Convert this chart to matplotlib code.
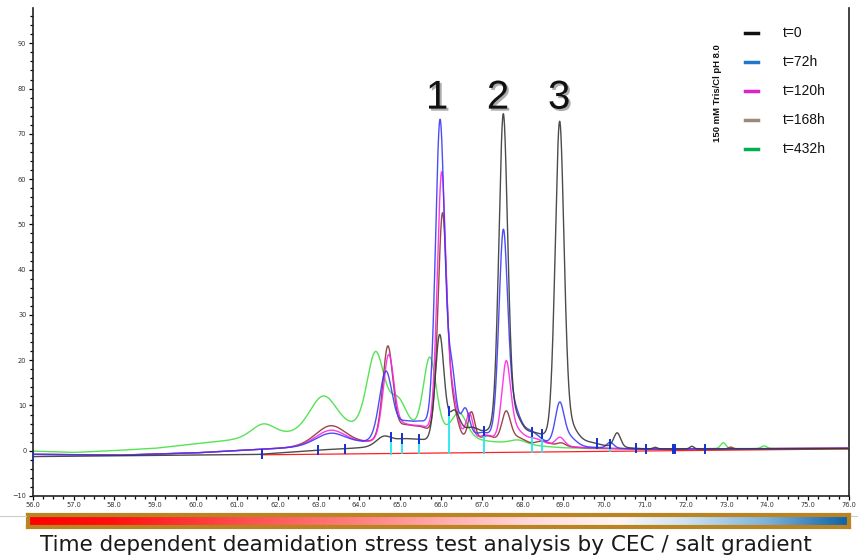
import numpy as np
import matplotlib
matplotlib.use("Agg")
import matplotlib.pyplot as plt
import matplotlib.patheffects as pe
from matplotlib.colors import LinearSegmentedColormap
from matplotlib.lines import Line2D
from matplotlib.ticker import MultipleLocator

# retention time axis (min)
x = np.linspace(56.0, 76.0, 4001)

labels = ["t=0", "t=72h", "t=120h", "t=168h", "t=432h"]
curve_colors = ["#383838", "#3a3af5", "#ff22e6", "#8e3434", "#44e044"]
legend_colors = ["#111111", "#1f78d0", "#e020c8", "#a08878", "#00b050"]

# baseline drift anchors (time, signal) per trace
base_t0_x = [56.0, 61.5, 63.0, 64.0, 66.0, 68.0, 69.5, 71.0, 76.0]
base_t0_y = [-1.3, -0.85, 0.1, 0.5, 1.0, 1.0, 0.8, 0.3, 0.45]
base_mid_x = [56.0, 58.1, 60.0, 61.0, 62.0, 64.0, 66.0, 68.0, 69.5, 71.0, 76.0]
base_mid_y = [-0.8, -1.0, -0.5, 0.0, 0.4, 1.2, 1.5, 1.2, 0.6, 0.3, 0.55]
base_t432_x = [56.0, 57.0, 58.0, 59.0, 60.0, 61.0, 62.0, 63.0, 64.0, 65.0, 66.0, 67.0, 68.0, 69.0, 70.0, 76.0]
base_t432_y = [-0.1, -0.4, 0.0, 0.5, 1.5, 2.3, 3.0, 3.8, 4.4, 4.0, 3.0, 2.0, 1.2, 0.6, 0.4, 0.5]

# peak tables: (retention time, height, fwhm)
peaks_t0 = [(64.6, 2.2, 0.45), (65.1, 1.5, 0.6), (65.5, 0.6, 0.4),
            (65.97, 24.0, 0.26), (66.33, 6.5, 0.32), (66.75, 3.2, 0.5),
            (67.15, 1.0, 0.4), (67.53, 72.5, 0.26), (67.85, 4.0, 0.35),
            (68.25, 1.8, 0.5), (68.91, 71.0, 0.26), (69.2, 2.5, 0.4),
            (69.7, 0.5, 0.5), (70.32, 3.2, 0.2), (71.25, 0.35, 0.12),
            (72.15, 0.6, 0.12)]
peaks_t72 = [(63.3, 2.8, 0.9), (64.65, 15.5, 0.38), (65.1, 3.5, 0.5),
             (65.5, 3.0, 0.5), (65.98, 70.5, 0.27), (66.27, 13.0, 0.24),
             (66.6, 6.5, 0.25), (67.0, 1.5, 0.4), (67.53, 46.0, 0.26),
             (67.8, 6.0, 0.35), (68.2, 2.5, 0.5), (68.91, 9.0, 0.26),
             (69.15, 1.8, 0.4), (70.15, 1.3, 0.2)]
peaks_t120 = [(63.3, 3.5, 0.9), (64.72, 19.0, 0.32), (65.1, 3.0, 0.5),
              (65.5, 2.5, 0.5), (66.02, 59.0, 0.26), (66.3, 8.0, 0.28),
              (66.7, 6.0, 0.2), (67.1, 1.5, 0.4), (67.6, 17.5, 0.26),
              (67.85, 2.5, 0.4), (68.3, 1.3, 0.5), (68.92, 2.0, 0.26)]
peaks_t168 = [(63.3, 4.5, 0.9), (64.70, 21.0, 0.3), (65.1, 3.0, 0.5),
              (65.5, 2.5, 0.5), (66.04, 50.0, 0.26), (66.3, 6.0, 0.28),
              (66.75, 6.5, 0.2), (67.15, 1.5, 0.4), (67.6, 7.0, 0.26),
              (67.9, 1.3, 0.4), (68.5, 1.0, 0.4), (68.95, 0.8, 0.25),
              (73.1, 0.4, 0.12)]
peaks_t432 = [(61.65, 3.0, 0.7), (63.12, 8.0, 0.8), (64.40, 17.0, 0.5),
              (64.95, 6.5, 0.5), (65.73, 17.0, 0.38), (66.45, 5.5, 0.45),
              (67.9, 1.0, 0.5), (72.92, 1.3, 0.15), (73.92, 0.6, 0.15)]

# integration marks
tick_x = [56.0, 61.61, 62.98, 63.65, 69.82, 70.79, 71.03, 71.70, 71.74, 72.48]
drop_x = [64.77, 65.06, 65.47, 66.21, 67.05, 68.23, 68.49, 70.15]
redline_x = [61.6, 76.0]
redline_y = [-0.9, 0.4]

peak_names = ["1", "2", "3"]
peak_name_x = [65.91, 67.40, 68.90]


def trace(bx, by, peaks, eta=0.22):
    y = np.interp(x, bx, by)
    for c, h, w in peaks:
        d = 4 * (x - c) ** 2 / w ** 2
        y = y + h * ((1 - eta) * np.exp(-np.log(2) * d) + eta / (1 + d))
    return y


traces = [trace(base_t0_x, base_t0_y, peaks_t0),
          trace(base_mid_x, base_mid_y, peaks_t72),
          trace(base_mid_x, base_mid_y, peaks_t120),
          trace(base_mid_x, base_mid_y, peaks_t168),
          trace(base_t432_x, base_t432_y, peaks_t432)]

W, H = 858, 558
fig = plt.figure(figsize=(W / 100, H / 100), dpi=100)
ax = fig.add_axes([32.7 / W, 62 / H, (849 - 32.7) / W, (496 - 8) / H])

# draw back to front
for i in [4, 3, 2, 1, 0]:
    ax.plot(x, traces[i], color=curve_colors[i], lw=1.0, alpha=0.9, zorder=2 + (4 - i))

ax.plot(redline_x, redline_y, color="#ff2020", lw=0.9, zorder=1.5)
base_at = lambda t: np.interp(t, redline_x, redline_y)
for t in drop_x:
    yt = np.interp(t, x, traces[0])
    ax.plot([t, t], [base_at(t), yt], color="#22e8f0", lw=1.3, zorder=8)
    ax.plot([t, t], [yt - 0.9, yt + 0.9], color="#1030d0", lw=1.4, zorder=9)
for t in tick_x:
    yt = np.interp(t, x, traces[0])
    ax.plot([t, t], [yt - 0.9, yt + 0.9], color="#1030d0", lw=1.4, zorder=9)

ax.set_xlim(56.0, 76.0)
ax.set_ylim(-10, 97.8)
ax.xaxis.set_major_locator(MultipleLocator(1.0))
ax.xaxis.set_minor_locator(MultipleLocator(0.25))
ax.yaxis.set_major_locator(MultipleLocator(10))
ax.yaxis.set_minor_locator(MultipleLocator(2))
ax.xaxis.set_major_formatter(lambda v, p: f"{v:.1f}")
ax.tick_params(which="both", direction="out", width=0.9, labelsize=4.8,
               labelcolor="#333333", pad=1.5)
ax.tick_params(which="major", length=3)
ax.tick_params(which="minor", length=2)
ax.spines["top"].set_visible(False)
for s in ["left", "bottom", "right"]:
    ax.spines[s].set_linewidth(1.2)
    ax.spines[s].set_color("#222222")

for name, px in zip(peak_names, peak_name_x):
    ax.text(px, 78.0, name, ha="center", va="center", fontsize=29,
            family="Liberation Sans", color="#111111", zorder=10,
            path_effects=[pe.withSimplePatchShadow(offset=(1.5, -1.5),
                                                   shadow_rgbFace="#777777",
                                                   alpha=0.6)])

# legend box on the right
fig.text(718 / W, 1 - 93 / H, "150 mM Tris/Cl pH 8.0", rotation=90,
         ha="center", va="center", fontsize=6.8, fontweight="bold",
         family="Liberation Sans", color="#111111")
for i, lab in enumerate(labels):
    yy = 1 - (33 + 29 * i) / H
    fig.lines.append(Line2D([745 / W, 758 / W], [yy, yy], color=legend_colors[i],
                            lw=2.5, transform=fig.transFigure))
    fig.text(783 / W, yy, lab, ha="left", va="center", fontsize=10,
             family="Liberation Sans", color="#111111")

# salt gradient bar
cmap = LinearSegmentedColormap.from_list("salt", [
    (0.0, "#ff0000"), (0.1, "#ff1010"), (0.25, "#ff4a4a"), (0.4, "#ff8080"),
    (0.5, "#ffaaaa"), (0.62, "#ffdcdc"), (0.72, "#fdf6f4"), (0.8, "#cfe3f0"),
    (0.9, "#7fb3d8"), (1.0, "#0e62a8")])
bar = fig.add_axes([28 / W, (558 - 527) / H, (849 - 28) / W, 12 / H])
bar.imshow(np.linspace(0, 1, 512)[None, :], cmap=cmap, aspect="auto",
           extent=[0, 1, 0, 1])
bar.set_xticks([])
bar.set_yticks([])
for s in bar.spines.values():
    s.set_color("#bb8422")
    s.set_linewidth(3)
fig.lines.append(Line2D([0, 26 / W], [1 - 516 / H] * 2, color="#cccccc", lw=0.8,
                        transform=fig.transFigure))
fig.lines.append(Line2D([851 / W, 1], [1 - 516 / H] * 2, color="#cccccc", lw=0.8,
                        transform=fig.transFigure))

fig.text(426 / W, 1 - 545 / H,
         "Time dependent deamidation stress test analysis by CEC / salt gradient",
         ha="center", va="center", fontsize=15.5, color="#1a1a1a")

fig.savefig("out.png", dpi=100)
